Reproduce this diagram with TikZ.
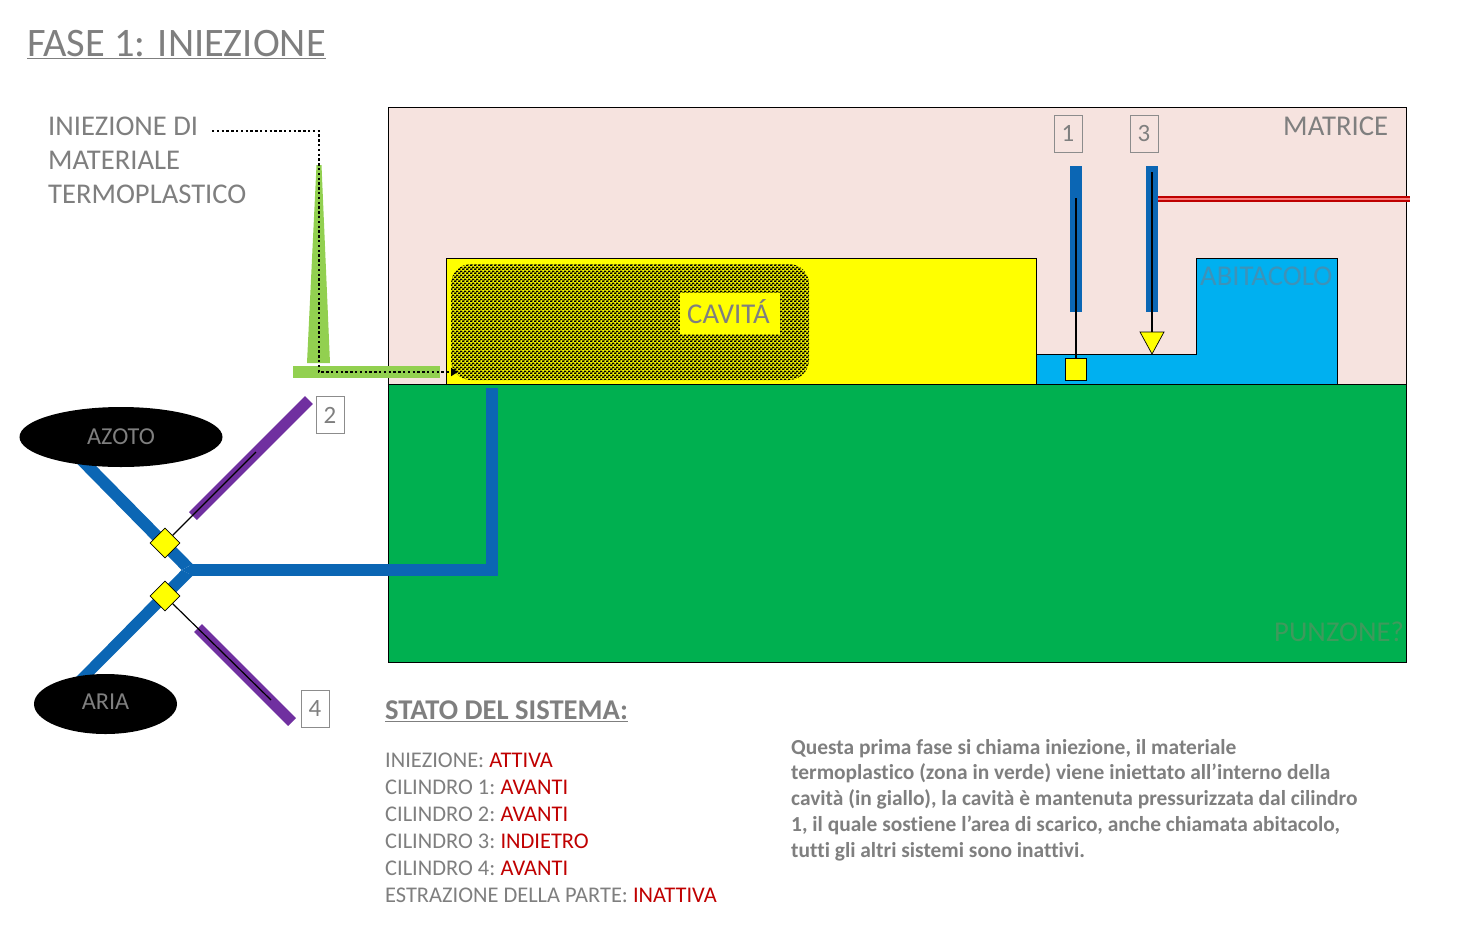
\documentclass[tikz,border=0pt]{standalone}
\usepackage{fontspec}
\setmainfont[Ligatures=NoCommon]{Carlito}
\usetikzlibrary{patterns,shapes.geometric,arrows.meta}
\definecolor{mat}{HTML}{F6E3DF}
\definecolor{yel}{HTML}{FFFF00}
\definecolor{pun}{HTML}{00B050}
\definecolor{lblue}{HTML}{00B0F0}
\definecolor{mblue}{HTML}{0B66B4}
\definecolor{lgreen}{HTML}{92D050}
\definecolor{purp}{HTML}{7030A0}
\definecolor{gtext}{HTML}{7F7F7F}
\definecolor{rtext}{HTML}{C00000}
\definecolor{abtext}{HTML}{3E92B8}
\definecolor{puntext}{HTML}{3E9A5C}
\pgfdeclarepatternformonly{fdots}{\pgfqpoint{0pt}{0pt}}{\pgfqpoint{4pt}{4pt}}{\pgfqpoint{4pt}{4pt}}{%
  \pgfpathrectangle{\pgfqpoint{0pt}{0pt}}{\pgfqpoint{2.4pt}{1.3pt}}%
  \pgfpathrectangle{\pgfqpoint{2pt}{2pt}}{\pgfqpoint{2pt}{1.3pt}}%
  \pgfpathrectangle{\pgfqpoint{0pt}{2pt}}{\pgfqpoint{.4pt}{1.3pt}}%
  \pgfpathrectangle{\pgfqpoint{1.7pt}{1.3pt}}{\pgfqpoint{.6pt}{.7pt}}%
  \pgfusepath{fill}}
\tikzset{
  x=1bp,y=-1bp,
  lab/.style={inner sep=0pt,anchor=base west,text=gtext,font=\fontsize{#1}{#1}\selectfont},
  numbox/.style={draw=black!45,line width=.7pt,fill=#1,text=gtext,inner sep=0pt,minimum width=28bp,minimum height=37bp,font=\fontsize{25}{25}\selectfont},
  numbox/.default=white,
  gas/.style={ellipse,fill=black,inner sep=0pt},
  valve/.style={diamond,draw=black,line width=.7pt,fill=yel,inner sep=0pt,minimum width=30bp,minimum height=30bp},
  cyl/.style={draw=purp,line width=11bp},
  cylb/.style={draw=mblue,line width=12bp},
  rod/.style={draw=black,line width=2pt},
  rodthin/.style={draw=black,line width=1.2pt},
  block/.style={draw=black,line width=.7pt},
  para/.style={lab=21.5,font=\fontsize{21.5}{21.5}\selectfont\bfseries},
}
\newcommand{\valtext}[1]{\kern-1.6pt\textcolor{rtext}{#1}}
\begin{document}
\begin{tikzpicture}
\useasboundingbox (0,0) rectangle (1470,935);
\fill[white] (0,0) rectangle (1470,935);

\node[lab=40.6] (title) at (27,56) {\underline{FASE 1: INIEZIONE}};

% mould
\path[block,fill=mat] (388,107) rectangle (1406,384);
\path[block,fill=pun] (388,384) rectangle (1406,662);
\path[block,fill=yel] (446,258) rectangle (1036,384);
\path[pattern=fdots,pattern color=black,rounded corners=20bp] (451,264) rectangle (809,380);
\path[block,fill=lblue] (1036,384) -- (1036,354) -- (1196,354) -- (1196,258) -- (1337,258) -- (1337,384) -- cycle;

\node[lab=28.8] (mat) at (1283,135) {MATRICE};
\node[lab=28.8,text=abtext] (abit) at (1200,285) {ABITACOLO};
\node[lab=28.8,text=puntext] (punz) at (1274,641) {PUNZONE?};
\node[fill=yel,inner sep=0pt,minimum width=100bp,minimum height=41bp] (cavbg) at (730,313.5) {};
\node[lab=28.8] (cav) at (687,323) {CAVITÁ};

% cylinders 1 and 3
\coordinate (c1t) at (1076,166); \coordinate (c1b) at (1076,312);
\coordinate (c3t) at (1152,166); \coordinate (c3b) at (1152,312);
\path[cylb] (c1t) -- (c1b);
\path[cylb] (c3t) -- (c3b);
\node[draw=black,line width=.7pt,fill=yel,inner sep=0pt,minimum width=21bp,minimum height=22bp] (sq) at (1075.5,369) {};
\coordinate (r1) at (1076,198);
\path[rod] (r1) -- (sq.north -| r1);
\coordinate (r3) at (1152,172);
\coordinate (t3) at (1152,332);
\path[block,fill=yel] (1140,332) -- (1164,332) -- (1152,354) -- cycle;
\path[rod] (r3) -- (t3);
\coordinate (rs) at (1158,199);
\coordinate (re) at (1410,199);
\path[draw=red!75!black,line width=5.5bp] (rs) -- (re);
\path[draw=red!45!mat,line width=1.6bp] (rs) -- (re);
\node[numbox=mat] (n1) at (1068,133.5) {1};
\node[numbox=mat] (n3) at (1144,133.5) {3};

% injection
\path[fill=lgreen] (316.5,165) -- (321.5,165) -- (330,363) -- (307,363) -- cycle;
\path[fill=lgreen] (293,366) rectangle (440,378);
\coordinate (d0) at (212,131);
\coordinate (d1) at (319,131);
\coordinate (d2) at (319,372);
\coordinate (d3) at (458,372);
\draw[line width=2.6bp,dash pattern=on 2.4bp off 2.4bp,-{Triangle[length=7bp,width=8bp]}] (d0) -- (d1) -- (d2) -- (d3);
\node[lab=28.7] (inj1) at (48,135) {INIEZIONE DI};
\node[lab=28.7] (inj2) at (48,169) {MATERIALE};
\node[lab=28.7] (inj3) at (48,203) {TERMOPLASTICO};

% gas circuit
\coordinate (jt) at (190,570);
\coordinate (jb) at (492,570);
\coordinate (je) at (492,388);
\fill[mblue] (192.7,564) -- (181.7,570) -- (69.5,456) -- (86.2,456) -- cycle;
\fill[mblue] (192.7,575.7) -- (181.7,570) -- (68.3,685) -- (83.3,685) -- cycle;
\fill[mblue] (181.7,570) -- (193,564) -- (193,576) -- cycle;
\draw[mblue,line width=12bp] (jt) -- (jb) -- (je);
\node[gas,minimum width=203bp,minimum height=60bp] (azoto) at (121,437) {};
\node[gas,minimum width=143bp,minimum height=60bp] (aria) at (105.5,704) {};
\node[lab=24.4,anchor=center] (azt) at (121,436.5) {AZOTO};
\node[lab=24.4,anchor=center] (art) at (105.5,702) {ARIA};

\node[valve] (v1) at (165,543) {};
\node[valve] (v2) at (165,596) {};
\coordinate (p2a) at (193,516); \coordinate (p2b) at (309,400);
\coordinate (p4a) at (198,628); \coordinate (p4b) at (292,722);
\path[cyl] (p2a) -- (p2b);
\path[cyl] (p4a) -- (p4b);
\coordinate (r2) at (256,452);
\coordinate (r4) at (271,700);
\path[rodthin] (v1.north east) -- (r2);
\path[rodthin] (v2.south east) -- (r4);
\node[numbox] (n2) at (330,415) {2};
\node[numbox] (n4) at (315,708.5) {4};

% status
\node[lab=28.7,font=\fontsize{28.7}{28.7}\selectfont\bfseries] (st) at (385,719.5) {\underline{STATO DEL SISTEMA:}};
\node[lab=22.5] (s1) at (385,767) {INIEZIONE: \textcolor{rtext}{ATTIVA}};
\node[lab=22.5] (s2) at (385,794) {CILINDRO 1: \valtext{AVANTI}};
\node[lab=22.5] (s3) at (385,821) {CILINDRO 2: \valtext{AVANTI}};
\node[lab=22.5] (s4) at (385,848) {CILINDRO 3: \valtext{INDIETRO}};
\node[lab=22.5] (s5) at (385,875) {CILINDRO 4: \valtext{AVANTI}};
\node[lab=22.5] (s6) at (385,902) {ESTRAZIONE DELLA PARTE: \textcolor{rtext}{INATTIVA}};

\node[para] (p1) at (791,754) {Questa prima fase si chiama iniezione, il materiale};
\node[para] (p2) at (791,779.5) {termoplastico (zona in verde) viene iniettato all’interno della};
\node[para] (p3) at (791,805) {cavità (in giallo), la cavità è mantenuta pressurizzata dal cilindro};
\node[para] (p4) at (791,831) {1, il quale sostiene l’area di scarico, anche chiamata abitacolo,};
\node[para] (p5) at (791,857) {tutti gli altri sistemi sono inattivi.};
\end{tikzpicture}
\end{document}
